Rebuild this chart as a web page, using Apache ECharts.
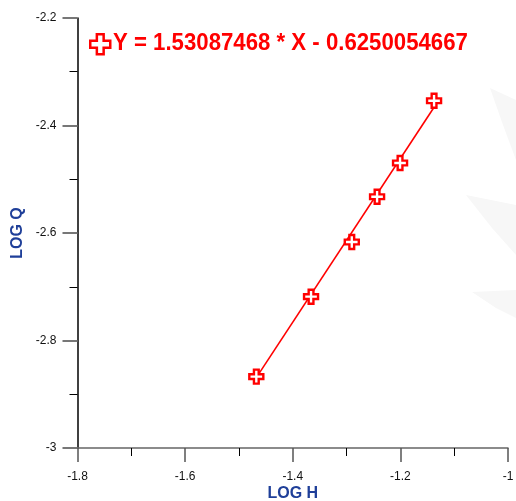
<!DOCTYPE html>
<html>
<head>
<meta charset="utf-8">
<script src="https://cdn.jsdelivr.net/npm/echarts@6/dist/echarts.min.js"></script>
<style>
  html, body { margin: 0; padding: 0; background: #fff; }
  #chart { width: 516px; height: 501px; }
</style>
</head>
<body>
<div id="chart"></div>
<script>
// measured points (LOG H, LOG Q)
const logH = [-1.4677, -1.366, -1.2903, -1.2433, -1.2006, -1.1374];
const logQ = [-2.8673, -2.7185, -2.6167, -2.5325, -2.4698, -2.3539];
// fitted line ends
const fitH = [-1.4677, -1.1374];
const fitQ = [-2.869, -2.366];
const fitLabel = 'Y = 1.53087468 * X - 0.6250054667';

const plus = 'path://M3.3,0 H6.7 V3.3 H10 V6.7 H6.7 V10 H3.3 V6.7 H0 V3.3 H3.3 Z';

window.addEventListener('DOMContentLoaded', () => {
  const chart = echarts.init(document.querySelector('#chart'), null, { renderer: 'canvas' });

  const tickFont = { fontFamily: 'Liberation Sans, Arial, sans-serif', fontSize: 12, color: '#111' };
  const nameFont = { fontFamily: 'Liberation Sans, Arial, sans-serif', fontSize: 16, fontWeight: 'bold', color: '#1f3f99' };

  chart.setOption({
    animation: false,
    grid: { left: 77.5, right: 8, top: 18, bottom: 53, containLabel: false, outerBoundsMode: 'none' },
    graphic: [
      { type: 'polygon', silent: true, z: -1, shape: { points: [[490, 88], [516, 100], [516, 160], [503, 125]] }, style: { fill: '#f7f7f7' } },
      { type: 'polygon', silent: true, z: -1, shape: { points: [[466, 195], [516, 205], [516, 255], [492, 228]] }, style: { fill: '#f7f7f7' } },
      { type: 'polygon', silent: true, z: -1, shape: { points: [[472, 292], [516, 290], [516, 318], [496, 308]] }, style: { fill: '#f7f7f7' } },
      {
        type: 'text', left: 113, top: 31, scaleX: 0.925, originX: 0,
        style: {
          text: fitLabel, fill: '#ff0000',
          font: 'bold 24px "Liberation Sans", Arial, sans-serif'
        }
      }
    ],
    legend: {
      left: 84, top: 28,
      itemWidth: 20, itemHeight: 20, itemGap: 4,
      icon: plus,
      data: [fitLabel],
      formatter: () => '',
      selectedMode: false,
      itemStyle: { color: '#fff', borderColor: '#ff0000', borderWidth: 2.5 },
      textStyle: { fontSize: 1 }
    },
    xAxis: {
      type: 'value', min: -1.8, max: -1, interval: 0.2,
      name: 'LOG H', nameLocation: 'middle', nameGap: 38, nameTextStyle: nameFont,
      nameMoveOverlap: false,
      axisLine: { show: true, onZero: false, lineStyle: { color: '#666', width: 1.5 } },
      axisTick: { show: true, length: 14, lineStyle: { color: '#555', width: 1.5 } },
      minorTick: { show: true, splitNumber: 2, length: 8, lineStyle: { color: '#000', width: 1 } },
      splitLine: { show: false },
      axisLabel: Object.assign({ margin: 23, formatter: v => String(Math.round(v * 10) / 10) }, tickFont)
    },
    yAxis: {
      type: 'value', min: -3, max: -2.2, interval: 0.2,
      name: 'LOG Q', nameLocation: 'middle', nameGap: 52, nameTextStyle: nameFont,
      nameMoveOverlap: false,
      axisLine: { show: true, onZero: false, lineStyle: { color: '#000', width: 1.5 } },
      axisTick: { show: true, length: 15, lineStyle: { color: '#777', width: 2 } },
      minorTick: { show: true, splitNumber: 2, length: 8, lineStyle: { color: '#000', width: 1 } },
      splitLine: { show: false },
      axisLabel: Object.assign({ margin: 21, formatter: v => String(Math.round(v * 10) / 10) }, tickFont)
    },
    series: [
      {
        name: 'fit', type: 'line', z: 2,
        data: fitH.map((h, i) => [h, fitQ[i]]),
        showSymbol: false,
        lineStyle: { color: '#ff0000', width: 1.6 }
      },
      {
        name: fitLabel, type: 'scatter', z: 3,
        data: logH.map((h, i) => [h, logQ[i]]),
        symbol: plus, symbolSize: 14,
        itemStyle: { color: '#fff', borderColor: '#ff0000', borderWidth: 2.4, opacity: 1 }
      }
    ]
  });
});
</script>
</body>
</html>
